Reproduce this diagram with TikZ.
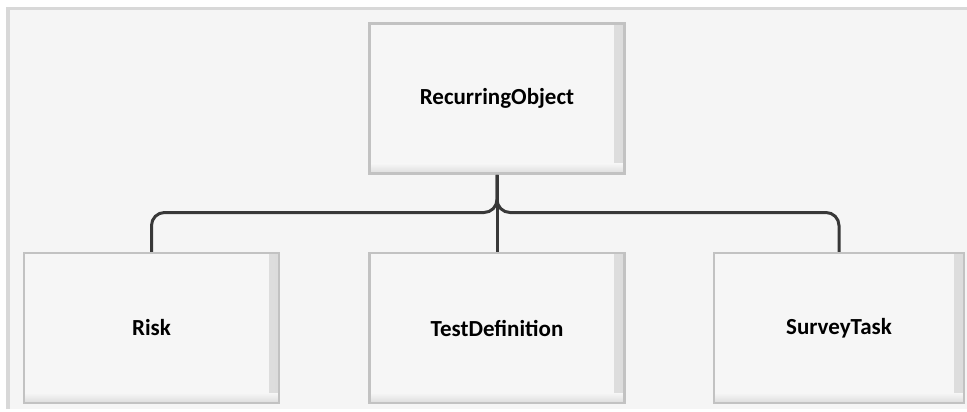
\documentclass[tikz,border=0pt]{standalone}
\usepackage{fontspec}
\setmainfont{Carlito}
\definecolor{pagebg}{HTML}{F5F5F5}
\definecolor{framec}{HTML}{D8D8D8}
\definecolor{boxfill}{HTML}{F6F6F6}
\definecolor{boxedge}{HTML}{C2C2C2}
\definecolor{shadowc}{HTML}{DCDCDC}
\definecolor{linec}{HTML}{383838}
\tikzset{
  classbox/.style={draw=boxedge, line width=2.5pt, fill=boxfill,
    minimum width=#1, minimum height=150pt, inner sep=0pt,
    font=\fontsize{23}{26}\selectfont\bfseries,
    path picture={
      \shade[left color=boxfill, right color=shadowc]
        ([xshift=-10pt]path picture bounding box.north east) rectangle (path picture bounding box.south east);
      \shade[top color=boxfill, bottom color=shadowc]
        ([yshift=10pt]path picture bounding box.south west) rectangle (path picture bounding box.south east);
    }},
  classbox/.default=255pt,
  conn/.style={draw=linec, line width=3pt, rounded corners=13pt}
}
\begin{document}
\begin{tikzpicture}[x=1pt,y=-1pt]
  \useasboundingbox (0,0) rectangle (967,412);
  \fill[white] (0,0) rectangle (967,412);
  \fill[pagebg] (6,7) rectangle (967,409);
  \draw[framec, line width=3.5pt] (8,409) -- (8,8.5) -- (967,8.5);

  \node[classbox] (top) at (497,98.5) {RecurringObject};
  \node[classbox] (risk) at (151.5,328) {Risk};
  \node[classbox] (td) at (497,328) {TestDefinition};
  \node[classbox=250pt] (survey) at (839,328) {SurveyTask};

  \coordinate (bar) at (0,212.5);
  \draw[conn] (risk.north) |- (top.south |- bar) -- (top.south);
  \draw[conn] (survey.north) |- (top.south |- bar) -- (top.south);
  \draw[conn] (top.south) -- (td.north);
\end{tikzpicture}
\end{document}
